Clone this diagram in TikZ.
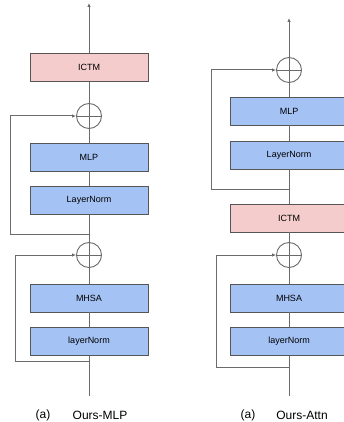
\documentclass[tikz,border=0pt]{standalone}
\usepackage{fontspec}
\setmainfont{Liberation Sans}
\usetikzlibrary{arrows.meta}
\definecolor{blockblue}{HTML}{A4C2F4}
\definecolor{blockpink}{HTML}{F4CCCC}
\definecolor{linegray}{HTML}{6B6B6B}
\tikzset{
  block/.style={draw=linegray!80!black, fill=blockblue, line width=0.9pt,
    minimum width=118pt, minimum height=28pt, inner sep=0pt,
    font=\fontsize{9}{11}\selectfont},
  ictm/.style={block, fill=blockpink},
  addop/.style={draw=linegray, line width=0.9pt, circle, minimum size=25pt, inner sep=0pt,
    path picture={\draw[linegray, line width=0.9pt]
      (path picture bounding box.north) -- (path picture bounding box.south)
      (path picture bounding box.west) -- (path picture bounding box.east);}},
  flow/.style={draw=linegray, line width=1pt},
  skip/.style={flow, -{Latex[length=4pt,width=3.5pt]}},
  caption/.style={font=\fontsize{12}{14}\selectfont},
}
\begin{document}
\begin{tikzpicture}[x=1pt,y=-1pt]
        \useasboundingbox (0,0) rectangle (344,422);
        % (a) Ours-MLP
        \coordinate (outA) at (89,3);
        \node[ictm] (ictmA) at (89,67.5) {ICTM};
        \node[addop] (addA2) at (89,116) {};
        \node[block] (mlpA) at (89,157) {MLP};
        \node[block] (lnA2) at (89,200.5) {LayerNorm};
        \coordinate (brA2) at (89,234);
        \node[addop] (addA1) at (89,255) {};
        \node[block] (mhsaA) at (89,298) {MHSA};
        \node[block] (lnA1) at (89,341.5) {layerNorm};
        \coordinate (brA1) at (89,361);
        \coordinate (inA) at (89,396);
        \draw[flow] (inA) -- (lnA1);
        \draw[flow] (lnA1) -- (mhsaA);
        \draw[flow] (mhsaA) -- (addA1);
        \draw[flow] (addA1) -- (lnA2);
        \draw[flow] (lnA2) -- (mlpA);
        \draw[flow] (mlpA) -- (addA2);
        \draw[flow] (addA2) -- (ictmA);
        \draw[skip] (ictmA) -- (outA);
        \draw[skip] (brA1) -- ++(-74,0) |- (addA1.west);
        \draw[skip] (brA2) -- ++(-79,0) |- (addA2.west);
        \node[caption] (labA) at (43,415) {(a)};
        \node[caption] (nameA) at (100,415) {Ours-MLP};
        % (a) Ours-Attn
        \coordinate (outB) at (289,18);
        \node[addop] (addB2) at (289,70) {};
        \node[block] (mlpB) at (289,111) {MLP};
        \node[block] (lnB2) at (289,155) {LayerNorm};
        \coordinate (brB2) at (289,189);
        \node[ictm] (ictmB) at (289,218) {ICTM};
        \node[addop] (addB1) at (289,255) {};
        \node[block] (mhsaB) at (289,298) {MHSA};
        \node[block] (lnB1) at (289,341.5) {layerNorm};
        \coordinate (brB1) at (289,367);
        \coordinate (inB) at (289,396);
        \draw[flow] (inB) -- (lnB1);
        \draw[flow] (lnB1) -- (mhsaB);
        \draw[flow] (mhsaB) -- (addB1);
        \draw[flow] (addB1) -- (ictmB);
        \draw[flow] (ictmB) -- (lnB2);
        \draw[flow] (lnB2) -- (mlpB);
        \draw[flow] (mlpB) -- (addB2);
        \draw[skip] (addB2) -- (outB);
        \draw[skip] (brB1) -- ++(-73,0) |- (addB1.west);
        \draw[skip] (brB2) -- ++(-78,0) |- (addB2.west);
        \node[caption] (labB) at (248,415) {(a)};
        \node[caption] (nameB) at (302,415) {Ours-Attn};
    \end{tikzpicture}
\end{document}
